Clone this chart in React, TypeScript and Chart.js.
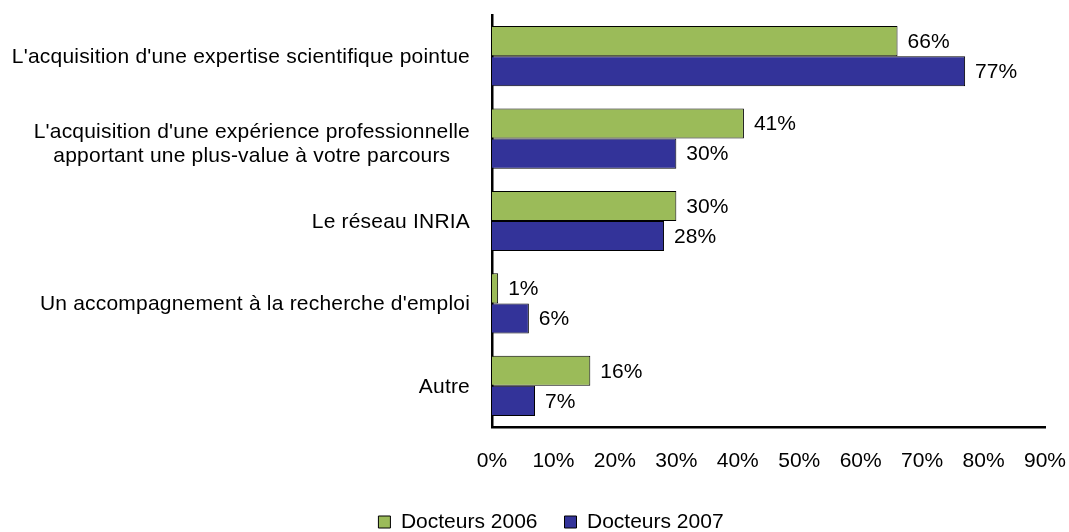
import React, { useEffect, useRef } from "react";
import { Chart, registerables } from "chart.js";

Chart.register(...registerables);

const categories: (string | string[])[] = [
  "L'acquisition d'une expertise scientifique pointue",
  ["L'acquisition d'une expérience professionnelle", "apportant une plus-value à votre parcours"],
  "Le réseau INRIA",
  "Un accompagnement à la recherche d'emploi",
  "Autre",
];
const series2006 = [66, 41, 30, 1, 16];
const series2007 = [77, 30, 28, 6, 7];
const seriesNames = ["Docteurs 2006", "Docteurs 2007"];
const xTicks = [0, 10, 20, 30, 40, 50, 60, 70, 80, 90];

const FONT = "'Liberation Sans', Arial, sans-serif";
const FS = 21;

const valueLabels = {
  id: "valueLabels",
  afterDatasetsDraw(chart: any) {
    const ctx = chart.ctx;
    ctx.save();
    ctx.font = `${FS}px ${FONT}`;
    ctx.fillStyle = "#000";
    ctx.textAlign = "left";
    ctx.textBaseline = "middle";
    chart.data.datasets.forEach((ds: any, di: number) => {
      const meta = chart.getDatasetMeta(di);
      meta.data.forEach((el: any, i: number) => {
        ctx.fillText(`${ds.data[i]}%`, el.x + 10, el.y + 1);
      });
    });
    ctx.restore();
  },
};

const categoryLabels = {
  id: "categoryLabels",
  afterDraw(chart: any) {
    const ctx = chart.ctx;
    const ys = chart.scales.y;
    ctx.save();
    ctx.font = `${FS}px ${FONT}`;
    try {
      (ctx as any).letterSpacing = "0.2px";
    } catch (e) {}
    ctx.fillStyle = "#000";
    ctx.textAlign = "center";
    ctx.textBaseline = "middle";
    const right = ys.right - 22;
    chart.data.labels.forEach((lab: any, i: number) => {
      const lines: string[] = Array.isArray(lab) ? lab : [lab];
      const w = Math.max(...lines.map((l) => ctx.measureText(l).width));
      const cy = ys.getPixelForValue(i) + (lines.length > 1 ? 5 : 0);
      const lh = 24;
      lines.forEach((l, j) => {
        ctx.fillText(l, right - w / 2, cy + (j - (lines.length - 1) / 2) * lh + 1);
      });
    });
    ctx.restore();
  },
};

export default function App() {
  const ref = useRef<HTMLCanvasElement | null>(null);
  useEffect(() => {
    if (!ref.current) return;
    const chart = new Chart(ref.current, {
      type: "bar",
      data: {
        labels: categories as any,
        datasets: [
          {
            label: seriesNames[0],
            data: series2006,
            backgroundColor: "#9BBB59",
            borderColor: "#000000",
            borderWidth: 1,
            categoryPercentage: 0.73,
            barPercentage: 1,
          },
          {
            label: seriesNames[1],
            data: series2007,
            backgroundColor: "#333399",
            borderColor: "#000000",
            borderWidth: 1,
            categoryPercentage: 0.73,
            barPercentage: 1,
          },
        ],
      },
      options: {
        indexAxis: "y",
        animation: false,
        responsive: true,
        maintainAspectRatio: false,
        layout: { padding: { left: 57, right: 24, top: 15, bottom: -10.5 } },
        plugins: {
          legend: {
            position: "bottom",
            labels: {
              boxWidth: 12,
              boxHeight: 12,
              padding: 27,
              color: "#000",
              font: { family: FONT, size: FS },
            },
          },
          tooltip: { enabled: false },
        },
        scales: {
          x: {
            min: 0,
            max: 90,
            afterBuildTicks(scale: any) {
              scale.ticks = xTicks.map((v) => ({ value: v }));
            },
            ticks: {
              stepSize: 10,
              padding: 22,
              color: "#000",
              font: { family: FONT, size: FS },
              callback: (v: any) => `${v}%`,
              maxRotation: 0,
            },
            grid: { display: false, drawTicks: false },
            border: { display: true, color: "#000", width: 2.5 },
            afterFit(scale: any) {
              scale.height = 57.5;
              scale.paddingLeft = 0;
              scale.paddingRight = 0;
            },
          },
          y: {
            ticks: { display: false },
            grid: { display: false, drawTicks: false },
            border: { display: true, color: "#000", width: 2.5 },
            afterFit(scale: any) {
              scale.width = 435;
            },
          },
        },
      },
      plugins: [valueLabels, categoryLabels],
    });
    return () => chart.destroy();
  }, []);
  return (
    <div style={{ position: "absolute", left: 0, top: 0, width: 1069, height: 532, background: "#fff" }}>
      <canvas ref={ref} />
    </div>
  );
}
